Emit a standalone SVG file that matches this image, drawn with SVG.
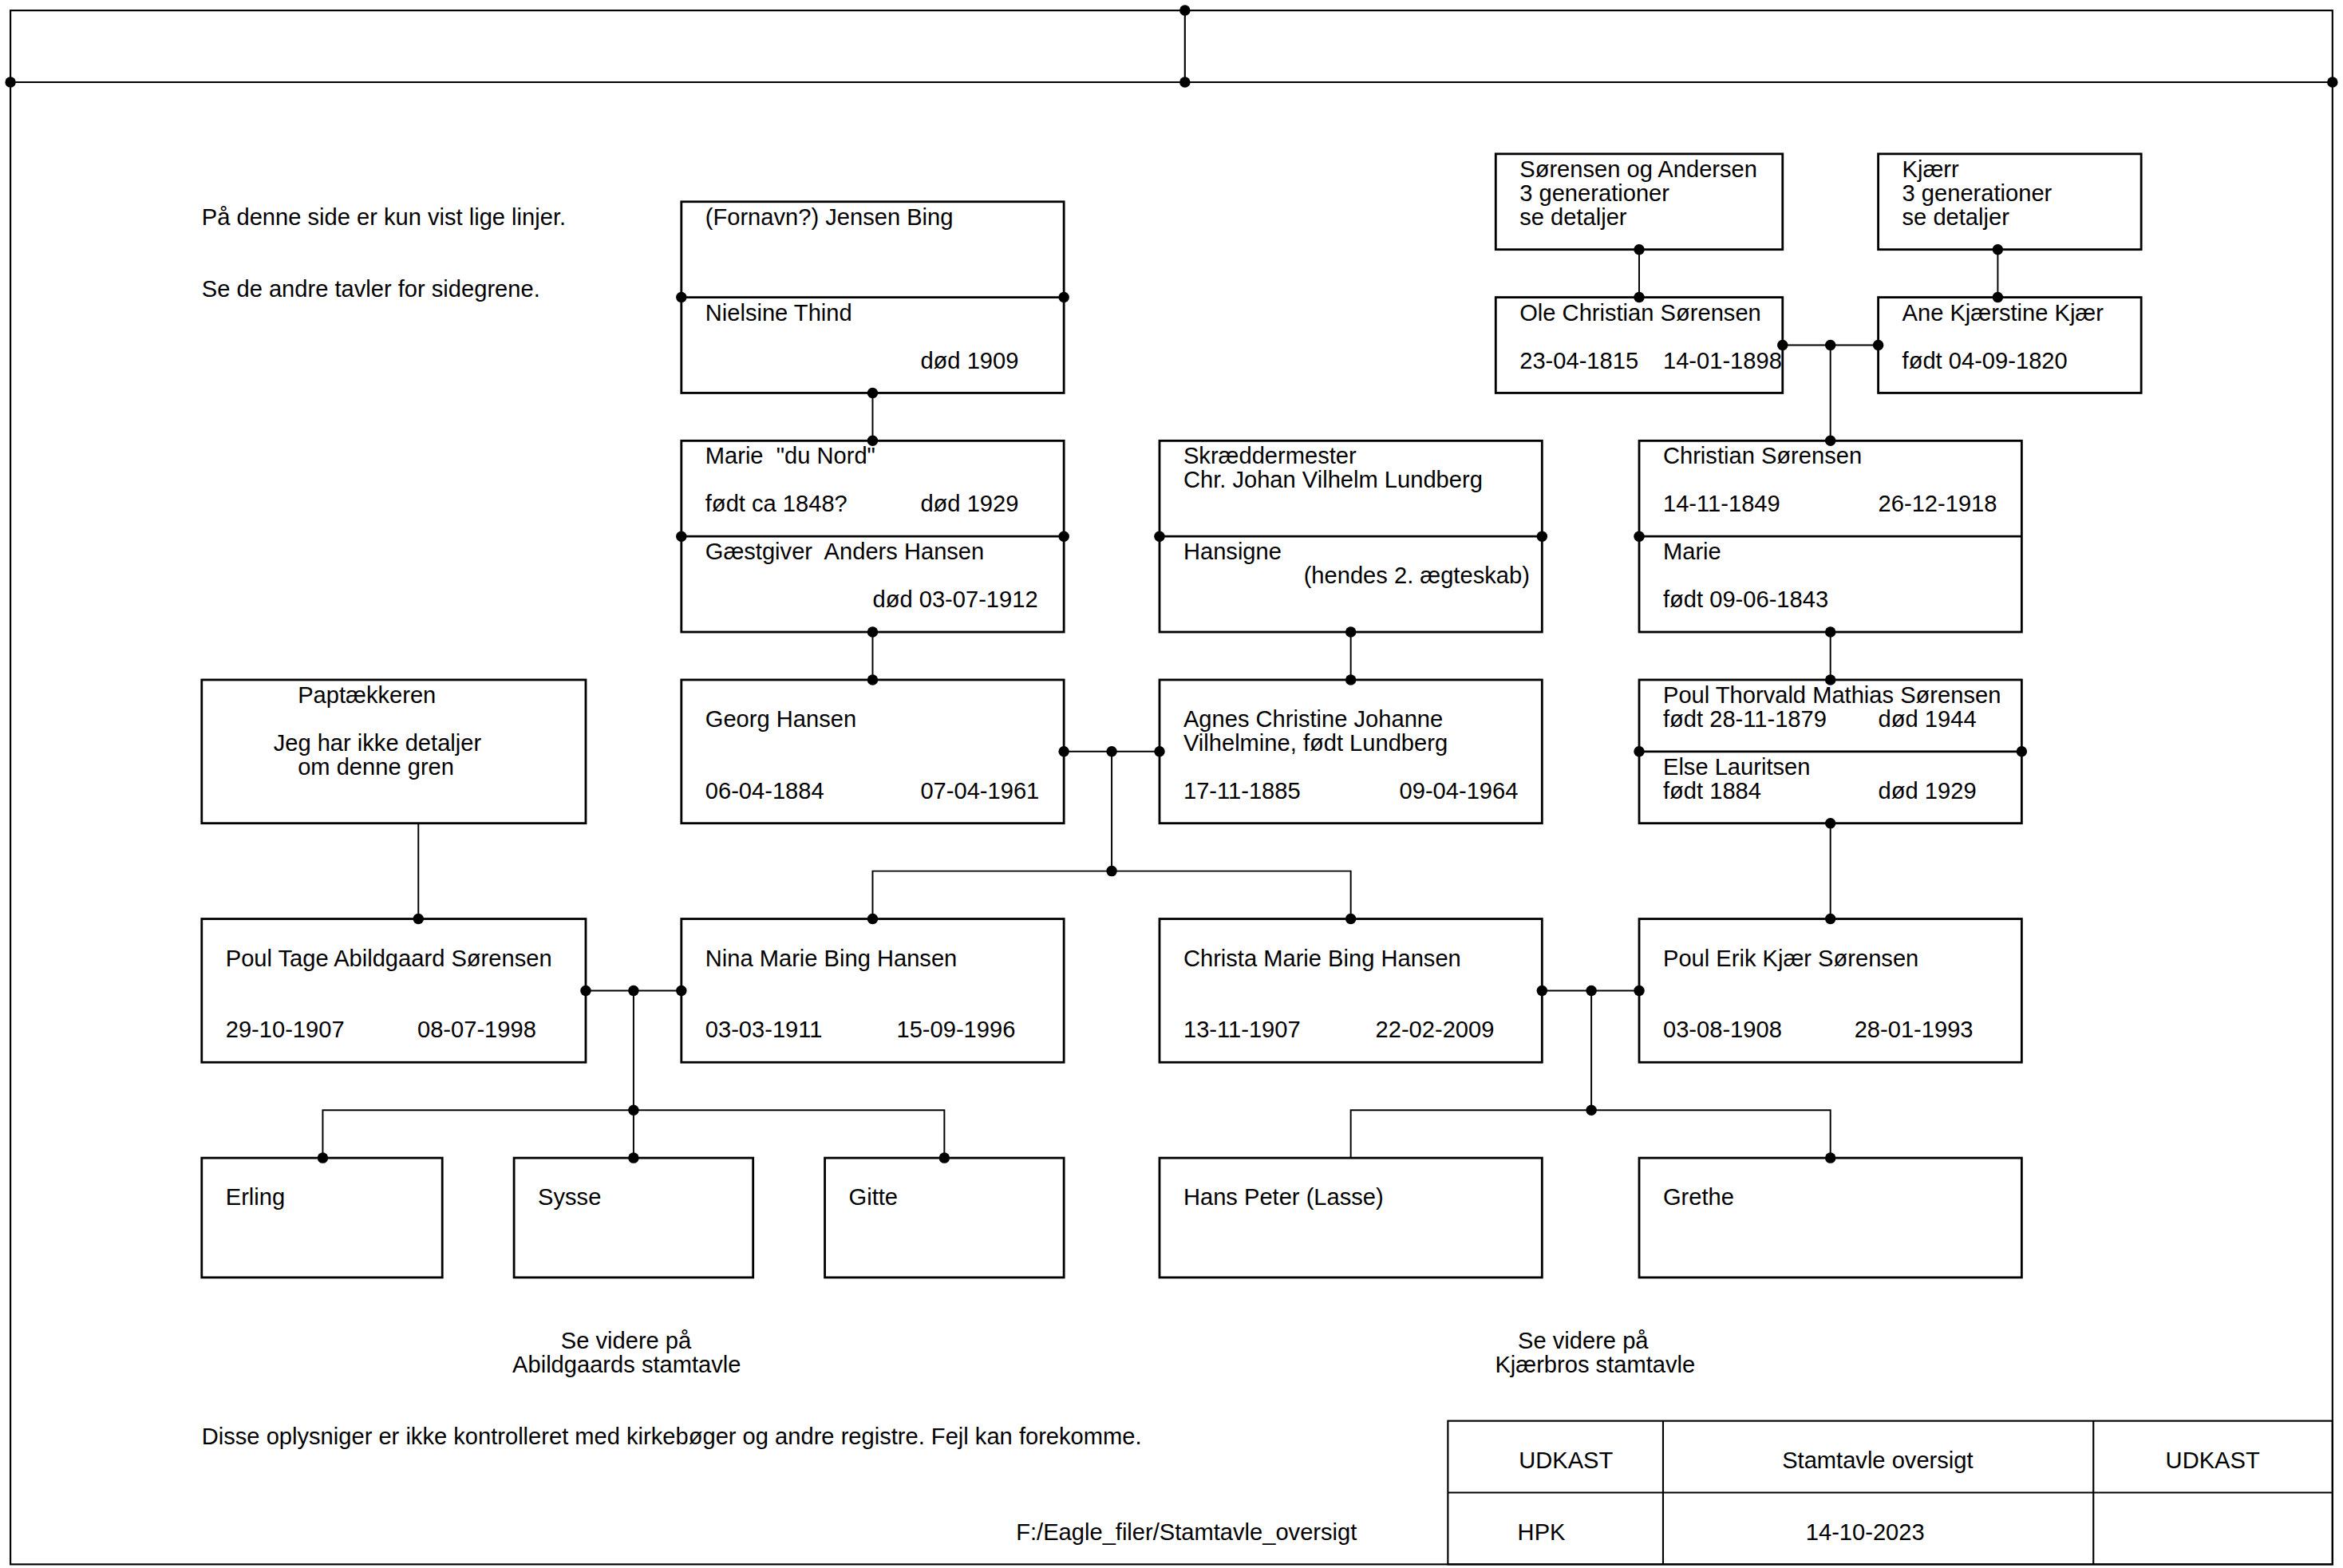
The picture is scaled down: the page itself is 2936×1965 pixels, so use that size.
<svg xmlns="http://www.w3.org/2000/svg" width="2936" height="1965" viewBox="0 0 2936 1965">
<style>
.frame{fill:none;stroke:#000;stroke-width:1.15}
.box{fill:#fff;stroke:#000;stroke-width:1.5}
.con{fill:none;stroke:#000;stroke-width:1.05}
.dot{fill:#000}
text{font-family:"Liberation Sans",Arial,sans-serif;font-size:15.55px;fill:#000}
.mid{text-anchor:middle}
</style>
<defs><circle id="d" r="3.6" class="dot"/></defs>
<rect width="2936" height="1965" fill="#fff"/>
<g transform="scale(1.8724)">
<g id="frame">
<rect class="frame" x="7" y="7" width="1554" height="1040"/>
<line class="frame" x1="7" y1="55" x2="1561" y2="55"/>
<line class="frame" x1="793" y1="7" x2="793" y2="55"/>
</g>
<g id="titleblock">
<rect class="frame" x="969" y="951" width="592" height="96"/>
<line class="frame" x1="969" y1="999" x2="1561" y2="999"/>
<line class="frame" x1="1113" y1="951" x2="1113" y2="1047"/>
<line class="frame" x1="1401" y1="951" x2="1401" y2="1047"/>
<text class="mid" x="1048" y="982.6">UDKAST</text>
<text class="mid" x="1256.6" y="982.6">Stamtavle oversigt</text>
<text class="mid" x="1480.8" y="982.6">UDKAST</text>
<text x="1015.6" y="1030.8">HPK</text>
<text x="1208.5" y="1030.8">14-10-2023</text>
</g>
<g id="notes">
<text x="135" y="150.5">På denne side er kun vist lige linjer.</text>
<text x="135" y="198.5">Se de andre tavler for sidegrene.</text>
<text class="mid" x="419" y="902.5">Se videre på</text>
<text class="mid" x="419.4" y="918.5">Abildgaards stamtavle</text>
<text class="mid" x="1059.5" y="902.5">Se videre på</text>
<text class="mid" x="1067.5" y="918.5">Kjærbros stamtavle</text>
<text x="135" y="966.5">Disse oplysniger er ikke kontrolleret med kirkebøger og andre registre. Fejl kan forekomme.</text>
<text x="680" y="1030.8">F:/Eagle_filer/Stamtavle_oversigt</text>
</g>
<g id="n-jensen-bing">
<rect class="box" x="456" y="135" width="256" height="128"/>
<line class="box" x1="456" y1="199" x2="712" y2="199"/>
<text x="472" y="150.5">(Fornavn?) Jensen Bing</text>
<text x="472" y="214.5">Nielsine Thind</text>
<text x="616" y="246.5">død 1909</text>
</g>
<g id="n-marie-du-nord">
<rect class="box" x="456" y="295" width="256" height="128"/>
<line class="box" x1="456" y1="359" x2="712" y2="359"/>
<text x="472" y="310.5" xml:space="preserve">Marie  "du Nord"</text>
<text x="472" y="342.5">født ca 1848?</text>
<text x="616" y="342.5">død 1929</text>
<text x="472" y="374.5" xml:space="preserve">Gæstgiver  Anders Hansen</text>
<text x="584" y="406.5">død 03-07-1912</text>
</g>
<g id="n-lundberg">
<rect class="box" x="776" y="295" width="256" height="128"/>
<line class="box" x1="776" y1="359" x2="1032" y2="359"/>
<text x="792" y="310.5">Skræddermester</text>
<text x="792" y="326.5">Chr. Johan Vilhelm Lundberg</text>
<text x="792" y="374.5">Hansigne</text>
<text x="872.5" y="390.5">(hendes 2. ægteskab)</text>
</g>
<g id="n-sorensen-andersen">
<rect class="box" x="1001" y="103" width="192" height="64"/>
<text x="1017" y="118.5">Sørensen og Andersen</text>
<text x="1017" y="134.5">3 generationer</text>
<text x="1017" y="150.5">se detaljer</text>
</g>
<g id="n-ole-christian">
<rect class="box" x="1001" y="199" width="192" height="64"/>
<text x="1017" y="214.5">Ole Christian Sørensen</text>
<text x="1017" y="246.5">23-04-1815</text>
<text x="1113" y="246.5">14-01-1898</text>
</g>
<g id="n-kjaerr">
<rect class="box" x="1257" y="103" width="176" height="64"/>
<text x="1273" y="118.5">Kjærr</text>
<text x="1273" y="134.5">3 generationer</text>
<text x="1273" y="150.5">se detaljer</text>
</g>
<g id="n-ane-kjaerstine">
<rect class="box" x="1257" y="199" width="176" height="64"/>
<text x="1273" y="214.5">Ane Kjærstine Kjær</text>
<text x="1273" y="246.5">født 04-09-1820</text>
</g>
<g id="n-christian-sorensen">
<rect class="box" x="1097" y="295" width="256" height="128"/>
<line class="box" x1="1097" y1="359" x2="1353" y2="359"/>
<text x="1113" y="310.5">Christian Sørensen</text>
<text x="1113" y="342.5">14-11-1849</text>
<text x="1257" y="342.5">26-12-1918</text>
<text x="1113" y="374.5">Marie</text>
<text x="1113" y="406.5">født 09-06-1843</text>
</g>
<g id="n-poul-thorvald">
<rect class="box" x="1097" y="455" width="256" height="96"/>
<line class="box" x1="1097" y1="503" x2="1353" y2="503"/>
<text x="1113" y="470.5">Poul Thorvald Mathias Sørensen</text>
<text x="1113" y="486.5">født 28-11-1879</text>
<text x="1257" y="486.5">død 1944</text>
<text x="1113" y="518.5">Else Lauritsen</text>
<text x="1113" y="534.5">født 1884</text>
<text x="1257" y="534.5">død 1929</text>
</g>
<g id="n-paptaekkeren">
<rect class="box" x="135" y="455" width="257" height="96"/>
<text x="199.3" y="470.5">Paptækkeren</text>
<text x="183" y="502.5">Jeg har ikke detaljer</text>
<text x="199.3" y="518.5">om denne gren</text>
</g>
<g id="n-georg-hansen">
<rect class="box" x="456" y="455" width="256" height="96"/>
<text x="472" y="486.5">Georg Hansen</text>
<text x="472" y="534.5">06-04-1884</text>
<text x="616" y="534.5">07-04-1961</text>
</g>
<g id="n-agnes">
<rect class="box" x="776" y="455" width="256" height="96"/>
<text x="792" y="486.5">Agnes Christine Johanne</text>
<text x="792" y="502.5">Vilhelmine, født Lundberg</text>
<text x="792" y="534.5">17-11-1885</text>
<text x="936.5" y="534.5">09-04-1964</text>
</g>
<g id="n-poul-tage">
<rect class="box" x="135" y="615" width="257" height="96"/>
<text x="151" y="646.5">Poul Tage Abildgaard Sørensen</text>
<text x="151" y="694.5">29-10-1907</text>
<text x="279.3" y="694.5">08-07-1998</text>
</g>
<g id="n-nina">
<rect class="box" x="456" y="615" width="256" height="96"/>
<text x="472" y="646.5">Nina Marie Bing Hansen</text>
<text x="472" y="694.5">03-03-1911</text>
<text x="600" y="694.5">15-09-1996</text>
</g>
<g id="n-christa">
<rect class="box" x="776" y="615" width="256" height="96"/>
<text x="792" y="646.5">Christa Marie Bing Hansen</text>
<text x="792" y="694.5">13-11-1907</text>
<text x="920.5" y="694.5">22-02-2009</text>
</g>
<g id="n-poul-erik">
<rect class="box" x="1097" y="615" width="256" height="96"/>
<text x="1113" y="646.5">Poul Erik Kjær Sørensen</text>
<text x="1113" y="694.5">03-08-1908</text>
<text x="1241" y="694.5">28-01-1993</text>
</g>
<g id="n-erling">
<rect class="box" x="135" y="775" width="161" height="80"/>
<text x="151" y="806.5">Erling</text>
</g>
<g id="n-sysse">
<rect class="box" x="344" y="775" width="160" height="80"/>
<text x="360" y="806.5">Sysse</text>
</g>
<g id="n-gitte">
<rect class="box" x="552" y="775" width="160" height="80"/>
<text x="568" y="806.5">Gitte</text>
</g>
<g id="n-hans-peter">
<rect class="box" x="776" y="775" width="256" height="80"/>
<text x="792" y="806.5">Hans Peter (Lasse)</text>
</g>
<g id="n-grethe">
<rect class="box" x="1097" y="775" width="256" height="80"/>
<text x="1113" y="806.5">Grethe</text>
</g>
<g id="connectors">
<path class="con" d="M584 263V295M584 423V455M904 423V455M1097 167V199M1337 167V199M1193 231H1257M1225 231V295M1225 423V455M280 551V615M712 503H776M744 503V583M584 615V583H904V615M1225 551V615M392 663H456M424 663V743M216 775V743H632V775M424 743V775M1032 663H1097M1065 663V743M904 775V743H1225V775"/>
<use href="#d" x="793" y="7"/><use href="#d" x="793" y="55"/><use href="#d" x="7" y="55"/><use href="#d" x="1561" y="55"/>
<use href="#d" x="456" y="199"/><use href="#d" x="712" y="199"/><use href="#d" x="584" y="263"/>
<use href="#d" x="584" y="295"/><use href="#d" x="456" y="359"/><use href="#d" x="712" y="359"/><use href="#d" x="584" y="423"/>
<use href="#d" x="776" y="359"/><use href="#d" x="1032" y="359"/><use href="#d" x="904" y="423"/>
<use href="#d" x="1097" y="167"/><use href="#d" x="1097" y="199"/><use href="#d" x="1193" y="231"/><use href="#d" x="1225" y="231"/>
<use href="#d" x="1337" y="167"/><use href="#d" x="1337" y="199"/><use href="#d" x="1257" y="231"/>
<use href="#d" x="1225" y="295"/><use href="#d" x="1097" y="359"/><use href="#d" x="1225" y="423"/>
<use href="#d" x="1225" y="455"/><use href="#d" x="1097" y="503"/><use href="#d" x="1353" y="503"/><use href="#d" x="1225" y="551"/>
<use href="#d" x="584" y="455"/><use href="#d" x="712" y="503"/><use href="#d" x="744" y="503"/><use href="#d" x="744" y="583"/>
<use href="#d" x="904" y="455"/><use href="#d" x="776" y="503"/>
<use href="#d" x="280" y="615"/><use href="#d" x="392" y="663"/><use href="#d" x="424" y="663"/><use href="#d" x="424" y="743"/>
<use href="#d" x="584" y="615"/><use href="#d" x="456" y="663"/>
<use href="#d" x="904" y="615"/><use href="#d" x="1032" y="663"/><use href="#d" x="1065" y="663"/><use href="#d" x="1065" y="743"/>
<use href="#d" x="1225" y="615"/><use href="#d" x="1097" y="663"/>
<use href="#d" x="216" y="775"/><use href="#d" x="424" y="775"/><use href="#d" x="632" y="775"/><use href="#d" x="1225" y="775"/>
</g>
</g>
</svg>
